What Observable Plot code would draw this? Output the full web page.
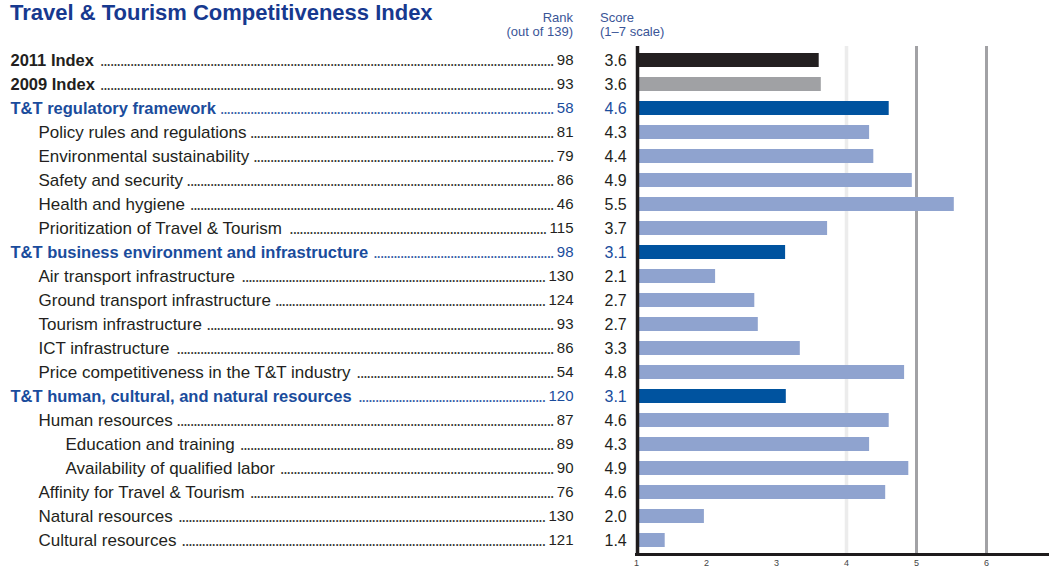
<!DOCTYPE html>
<html>
<head>
<meta charset="utf-8">
<script src="https://cdn.jsdelivr.net/npm/d3@7"></script>
<script src="https://cdn.jsdelivr.net/npm/@observablehq/plot@0.6"></script>
<style>
  html, body { margin: 0; padding: 0; background: #fff; }
  #wrap { position: relative; width: 1049px; height: 571px; overflow: hidden; font-family: "Liberation Sans", Arial, sans-serif; }
  #title { position: absolute; left: 10px; top: 0px; font-size: 22px; line-height: 25px; font-weight: bold; color: #17398f; white-space: nowrap; }
  .hdr { position: absolute; top: 11px; font-size: 13px; line-height: 14px; color: #3a5597; white-space: nowrap; }
  #rankHdr { left: 473px; width: 100px; text-align: right; }
  #scoreHdr { left: 600px; text-align: left; }
  #chart { position: absolute; left: 0; top: 0; }
</style>
</head>
<body>
<div id="wrap">
  <div id="chart"></div>
  <div id="title">Travel &amp; Tourism Competitiveness Index</div>
  <div class="hdr" id="rankHdr">Rank<br>(out of 139)</div>
  <div class="hdr" id="scoreHdr">Score<br>(1–7 scale)</div>
</div>
<script>
// ---- data ----
const labels = [
  "2011 Index",
  "2009 Index",
  "T&T regulatory framework",
  "Policy rules and regulations",
  "Environmental sustainability",
  "Safety and security",
  "Health and hygiene",
  "Prioritization of Travel & Tourism",
  "T&T business environment and infrastructure",
  "Air transport infrastructure",
  "Ground transport infrastructure",
  "Tourism infrastructure",
  "ICT infrastructure",
  "Price competitiveness in the T&T industry",
  "T&T human, cultural, and natural resources",
  "Human resources",
  "Education and training",
  "Availability of qualified labor",
  "Affinity for Travel & Tourism",
  "Natural resources",
  "Cultural resources"
];
const levels = [0,0,0,1,1,1,1,1,0,1,1,1,1,1,0,1,2,2,1,1,1];
const kinds = ["2011","2009","pillar","sub","sub","sub","sub","sub","pillar","sub","sub","sub","sub","sub","pillar","sub","sub","sub","sub","sub","sub"];
const ranks = [98,93,58,81,79,86,46,115,98,130,124,93,86,54,120,87,89,90,76,130,121];
const scores = [3.61,3.64,4.61,4.33,4.39,4.94,5.54,3.73,3.13,2.13,2.69,2.74,3.34,4.83,3.14,4.61,4.33,4.89,4.56,1.97,1.41];
const xTicks = [1,2,3,4,5,6];

const kindDomain = ["2011","2009","pillar","sub"];
const kindColors = ["#231f20","#a0a1a4","#00539f","#8fa3cf"];

const rows = labels.map((label, i) => ({label, level: levels[i], kind: kinds[i], rank: ranks[i], score: scores[i]}));

// ---- layout constants ----
const W = 1049, H = 571, mLeft = 636;
const labelX = [10, 38, 65];
const rankRight = 573, scoreLeft = 604;
const blue = "#1a4c9c", dark = "#231f20";
const font = "Liberation Sans, Arial, sans-serif";

const ctx = document.createElement("canvas").getContext("2d");
function measure(text, size, weight) {
  ctx.font = `${weight} ${size}px "Liberation Sans", Arial, sans-serif`;
  return ctx.measureText(text).width;
}

const textMarks = [];
for (const r of rows) {
  const fill = r.kind === "pillar" ? blue : dark;
  const size = r.level === 0 ? 16.5 : 17;
  const weight = r.level === 0 ? "bold" : "normal";
  const x0 = labelX[r.level];
  textMarks.push(Plot.text([r], {y: "label", text: "label", frameAnchor: "left", textAnchor: "start",
    dx: x0 - mLeft, fontSize: size, fontWeight: weight, fill}));
  textMarks.push(Plot.text([r], {y: "label", text: d => String(d.rank), frameAnchor: "left", textAnchor: "end",
    dx: rankRight - mLeft, fontSize: 15, fill}));
  textMarks.push(Plot.text([r], {y: "label", text: d => d.score.toFixed(1), frameAnchor: "left", textAnchor: "start",
    dx: scoreLeft - mLeft, fontSize: 16, fill}));
  // dot leader
  const lw = measure(r.label, size, weight);
  const rw = measure(String(r.rank), 15, "normal");
  const start = x0 + lw + 4;
  const end = rankRight - rw - 3;
  const dotW = measure(".", 12, "bold");
  const n = Math.max(0, Math.floor((end - start) / dotW));
  textMarks.push(Plot.text([r], {y: "label", text: () => ".".repeat(n), frameAnchor: "left", textAnchor: "end",
    dx: end - mLeft, dy: 1.6, fontSize: 12, fontWeight: "bold", fill, fillOpacity: 0.9}));
}

const chart = Plot.plot({
  width: W,
  height: H,
  marginLeft: mLeft,
  marginRight: 0,
  marginTop: 46,
  marginBottom: 17,
  style: {fontFamily: font, background: "transparent", fontSize: "9px", color: "#444"},
  x: {domain: [1, 6.9], ticks: xTicks, tickFormat: "d", tickSize: 0, tickPadding: 5, label: null},
  y: {domain: labels, paddingInner: 0.42, paddingOuter: 0.24, axis: null},
  color: {domain: kindDomain, range: kindColors},
  marks: [
    Plot.ruleX([4], {stroke: "#ececec", strokeWidth: 3.5}),
    Plot.ruleX([5, 6], {stroke: "#a2a2a5", strokeWidth: 3}),
    Plot.barX(rows, {y: "label", x1: 1, x2: "score", fill: "kind"}),
    Plot.ruleX([1], {stroke: "#1e1b1c", strokeWidth: 3.5, dx: 1}),
    Plot.frame({anchor: "bottom", stroke: "#1e1b1c", strokeWidth: 3}),
    ...textMarks
  ]
});
document.getElementById("chart").appendChild(chart);
</script>
</body>
</html>
